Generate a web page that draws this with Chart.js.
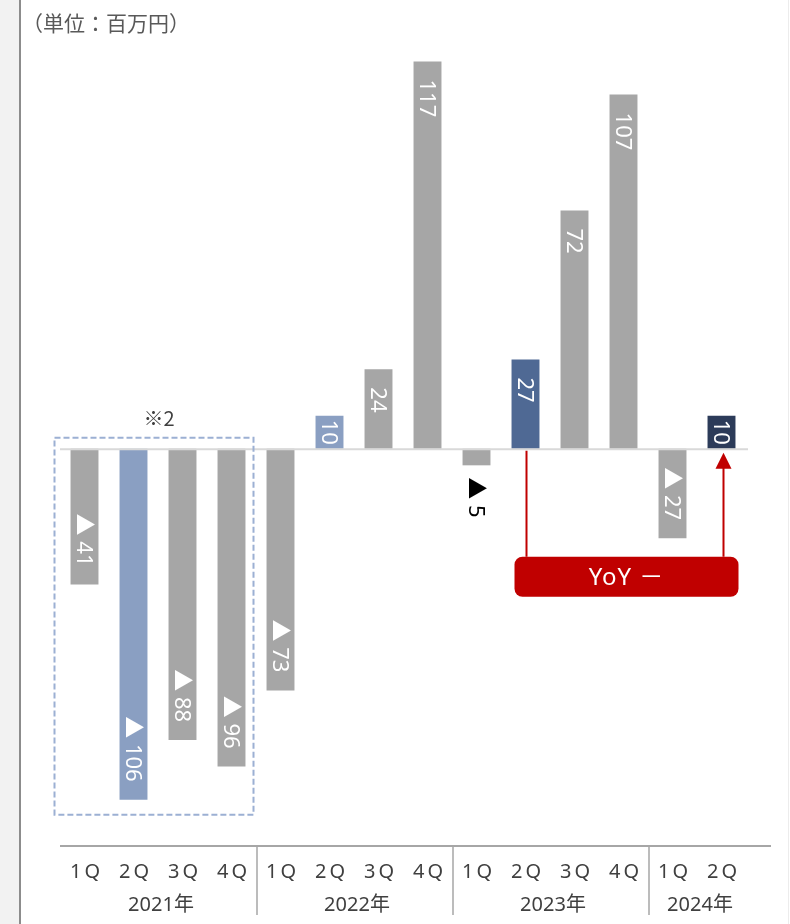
<!DOCTYPE html>
<html>
<head>
<meta charset="utf-8">
<script src="https://cdn.jsdelivr.net/npm/chart.js@4"></script>
<style>
    html, body { margin: 0; padding: 0; background: #fff; }
    #wrap { position: relative; width: 790px; height: 924px; }
</style>
</head>
<body>
<div id="wrap"><canvas id="lossChart" width="790" height="924"></canvas></div>
<script>
// ==================== DATA ====================

const quarters = ['1Q', '2Q', '3Q', '4Q', '1Q', '2Q', '3Q', '4Q', '1Q', '2Q', '3Q', '4Q', '1Q', '2Q'];
const years = ['2021年', '2022年', '2023年', '2024年'];
const yearOfBar = [0, 0, 0, 0, 1, 1, 1, 1, 2, 2, 2, 2, 3, 3];
const profit = [-41, -106, -88, -96, -73, 10, 24, 117, -5, 27, 72, 107, -27, 10];

const unitLabel = '（単位：百万円）';
const noteLabel = '※2';
const yoyLabel = 'YoY －';
const yoyFrom = 9;   // 2023 2Q
const yoyTo = 13;    // 2024 2Q

// ==================== STYLES ====================

const GRAY = '#a6a6a6';
const barColors = profit.map((v, i) => {
    if (i === 1 || i === 5) return '#8a9fc2';
    if (i === 9) return '#4f6994';
    if (i === 13) return '#2c3b59';
    return GRAY;
});
const JP_FONT = '"Noto Sans CJK JP", "Noto Sans", sans-serif';
const MIX_FONT = '"Noto Sans", "Noto Sans CJK JP", sans-serif';
const RED = '#c00000';

// ==================== PLUGINS ====================

const framePlugin = {
    id: 'frame',
    beforeDraw(chart) {
        const ctx = chart.ctx;
        ctx.save();
        ctx.fillStyle = '#f2f2f2';
        ctx.fillRect(0, 0, 19, chart.height);
        ctx.fillStyle = '#8c8c8c';
        ctx.fillRect(19, 0, 2, chart.height);
        ctx.fillStyle = '#ececec';
        ctx.fillRect(788, 0, 1, chart.height);

        ctx.fillStyle = '#595959';
        ctx.font = '21px ' + JP_FONT;
        ctx.textBaseline = 'middle';
        ctx.fillText(unitLabel, 22, 23);
        ctx.restore();
    }
};

const zeroLinePlugin = {
    id: 'zeroLine',
    afterDatasetsDraw(chart) {
        const { ctx, chartArea, scales } = chart;
        const y0 = scales.y.getPixelForValue(0);
        ctx.save();
        ctx.strokeStyle = '#d9d9d9';
        ctx.lineWidth = 2;
        ctx.beginPath();
        ctx.moveTo(chartArea.left, y0 + 0.5);
        ctx.lineTo(chartArea.right + 2, y0 + 0.5);
        ctx.stroke();
        ctx.restore();
    }
};

const valueLabelPlugin = {
    id: 'valueLabels',
    afterDatasetsDraw(chart) {
        const ctx = chart.ctx;
        const meta = chart.getDatasetMeta(0);
        ctx.save();
        ctx.font = '22px ' + MIX_FONT;
        ctx.textBaseline = 'middle';
        meta.data.forEach((bar, i) => {
            const v = profit[i];
            const text = v < 0 ? '▲ ' + Math.abs(v) : String(v);
            const top = Math.min(bar.y, bar.base);
            const bottom = Math.max(bar.y, bar.base);
            const h = bottom - top;
            const tw = ctx.measureText(text).width;
            ctx.save();
            if (h < tw + 6) {
                // too short, put it under the bar
                ctx.fillStyle = '#000';
                ctx.textAlign = 'left';
                ctx.translate(bar.x, v < 0 ? bottom + 12 : top - 12 - tw);
            } else {
                const pad = Math.min(18, (h - tw) / 2);
                ctx.fillStyle = '#fff';
                if (v >= 0) {
                    ctx.textAlign = 'left';
                    ctx.translate(bar.x, top + pad);
                } else {
                    ctx.textAlign = 'right';
                    ctx.translate(bar.x, bottom - pad);
                }
            }
            ctx.rotate(Math.PI / 2);
            ctx.fillText(text, 0, 1);
            ctx.restore();
        });
        ctx.restore();
    }
};

const axisPlugin = {
    id: 'groupAxis',
    afterDraw(chart) {
        const { ctx, chartArea, scales } = chart;
        const x = scales.x;
        const yAxis = chartArea.bottom;
        ctx.save();
        ctx.strokeStyle = '#a6a6a6';
        ctx.lineWidth = 2;
        ctx.beginPath();
        ctx.moveTo(chartArea.left, yAxis);
        ctx.lineTo(771, yAxis);
        ctx.stroke();

        ctx.fillStyle = '#404040';
        ctx.textAlign = 'center';
        ctx.textBaseline = 'middle';
        ctx.font = '20px ' + MIX_FONT;
        ctx.letterSpacing = '3px';
        quarters.forEach((q, i) => {
            ctx.fillText(q, x.getPixelForValue(i) + 2, yAxis + 26);
        });
        ctx.letterSpacing = '0px';

        ctx.font = '20px ' + MIX_FONT;
        ctx.strokeStyle = '#a6a6a6';
        ctx.lineWidth = 1.5;
        years.forEach((yr, k) => {
            const idx = yearOfBar.map((y, i) => y === k ? i : -1).filter(i => i >= 0);
            const first = idx[0];
            const last = idx[idx.length - 1];
            const cx = (x.getPixelForValue(first) + x.getPixelForValue(last)) / 2;
            ctx.fillText(yr, cx + 3, yAxis + 59);
            if (k > 0) {
                const sx = (x.getPixelForValue(first - 1) + x.getPixelForValue(first)) / 2 + 1;
                ctx.beginPath();
                ctx.moveTo(sx, yAxis);
                ctx.lineTo(sx, yAxis + 69);
                ctx.stroke();
            }
        });
        ctx.restore();
    }
};

const annotationPlugin = {
    id: 'notes',
    afterDraw(chart) {
        const { ctx, scales } = chart;
        const x = scales.x, y = scales.y;
        const y0 = y.getPixelForValue(0);
        ctx.save();

        // dashed box around 2021
        const bx1 = x.getPixelForValue(0) - 30;
        const bx2 = x.getPixelForValue(3) + 22;
        const by1 = y0 - 11;
        const by2 = y.getPixelForValue(Math.min(...profit.slice(0, 4))) + 15;
        ctx.strokeStyle = '#9cb0d3';
        ctx.lineWidth = 2;
        ctx.setLineDash([6, 3]);
        ctx.strokeRect(bx1, by1, bx2 - bx1, by2 - by1);
        ctx.setLineDash([]);

        ctx.fillStyle = '#404040';
        ctx.font = '20px ' + JP_FONT;
        ctx.textAlign = 'center';
        ctx.textBaseline = 'middle';
        ctx.fillText(noteLabel, (bx1 + bx2) / 2 + 5, by1 - 19);

        // YoY callout
        const fx = x.getPixelForValue(yoyFrom) + 1;
        const tx = x.getPixelForValue(yoyTo) + 2;
        const boxL = fx - 12, boxR = tx + 15;
        const boxT = y0 + 108, boxB = y0 + 148;

        ctx.strokeStyle = RED;
        ctx.lineWidth = 2;
        ctx.beginPath();
        ctx.moveTo(fx, y0 + 2);
        ctx.lineTo(fx, boxT);
        ctx.moveTo(tx, boxT);
        ctx.lineTo(tx, y0 + 18);
        ctx.stroke();
        ctx.fillStyle = RED;
        ctx.beginPath();
        ctx.moveTo(tx, y0 + 4);
        ctx.lineTo(tx - 8, y0 + 20);
        ctx.lineTo(tx + 8, y0 + 20);
        ctx.closePath();
        ctx.fill();

        ctx.beginPath();
        ctx.roundRect(boxL, boxT, boxR - boxL, boxB - boxT, 8);
        ctx.fill();
        ctx.fillStyle = '#fff';
        ctx.font = '24px ' + MIX_FONT;
        ctx.letterSpacing = '1px';
        ctx.fillText(yoyLabel, (boxL + boxR) / 2, (boxT + boxB) / 2 + 1);
        ctx.restore();
    }
};

// ==================== CHART ====================

new Chart(document.getElementById('lossChart'), {
    type: 'bar',
    data: {
        labels: quarters.map((q, i) => years[yearOfBar[i]] + ' ' + q),
        datasets: [{
            data: profit,
            backgroundColor: barColors,
            borderWidth: 0,
            categoryPercentage: 1,
            barPercentage: 0.57
        }]
    },
    options: {
        responsive: false,
        animation: false,
        devicePixelRatio: 1,
        layout: {
            padding: { left: 60, right: 44, top: 35, bottom: 78 }
        },
        scales: {
            x: { display: false },
            y: { display: false, min: -120, max: 125 }
        },
        plugins: {
            legend: { display: false },
            tooltip: { enabled: false }
        }
    },
    plugins: [framePlugin, zeroLinePlugin, valueLabelPlugin, axisPlugin, annotationPlugin]
});
</script>
</body>
</html>
